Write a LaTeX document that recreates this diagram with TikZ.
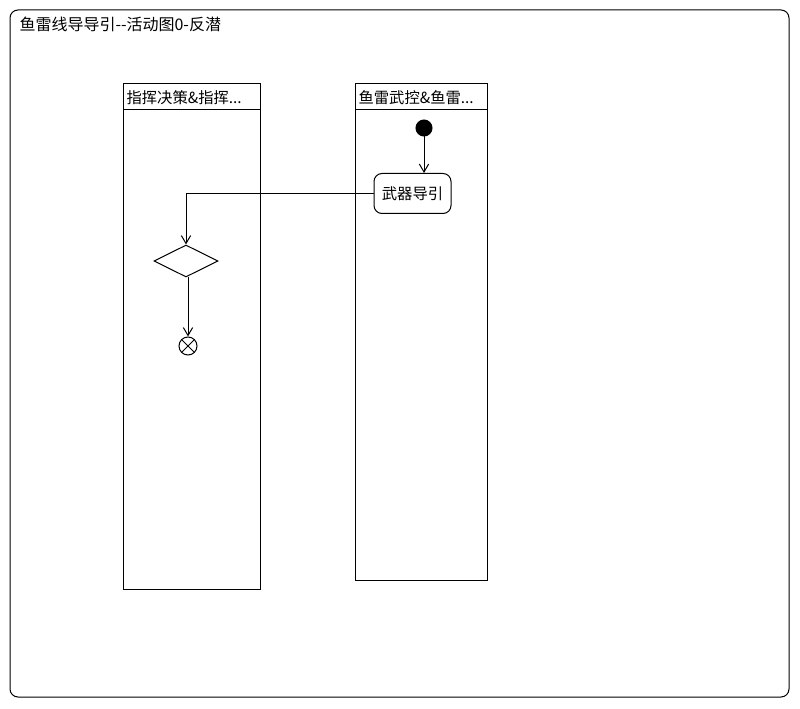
\documentclass[tikz,border=0pt]{standalone}
\usepackage{fontspec}
\setmainfont{Noto Sans CJK SC}
\usetikzlibrary{arrows.meta,shapes.geometric}
\begin{document}
\begin{tikzpicture}[x=0.75pt,y=-0.75pt,
  line width=0.75pt,
  every node/.style={font=\fontsize{11.5}{13}\selectfont},
  lane/.style={draw,line width=0.75pt},
  flow/.style={draw,-{Straight Barb[length=6pt,width=7pt]}},
  action/.style={draw,rounded corners=6pt,minimum width=77*0.75pt,minimum height=40*0.75pt,inner sep=0pt},
  decision/.style={draw,diamond,minimum width=64*0.75pt,minimum height=32*0.75pt,inner sep=0pt,aspect=2},
  initnode/.style={circle,fill=black,draw,minimum size=16*0.75pt,inner sep=0pt},
  finalnode/.style={circle,draw,minimum size=18*0.75pt,inner sep=0pt}
]
\useasboundingbox (0,0) rectangle (800,709);
% outer frame
\draw[rounded corners=6pt] (10,10) rectangle (789,697);
\node[anchor=base west,inner sep=0pt,font=\fontsize{12}{14}\selectfont] (title) at (19,31) {鱼雷线导导引{-}{-}活动图0{-}反潜};
% lanes
\draw[lane] (123,84) rectangle (260,589);
\draw[lane] (123,110) -- (260,110);
\node[anchor=west,inner sep=0pt] (h1) at (126,98) {指挥决策\&指挥...};
\draw[lane] (355,84) rectangle (487,580);
\draw[lane] (355,110) -- (487,110);
\node[anchor=west,inner sep=0pt] (h2) at (358,98) {鱼雷武控\&鱼雷...};
% nodes
\node[initnode] (start) at (424,128) {};
\node[action] (act) at (412.5,193.5) {武器导引};
\node[decision] (dec) at (186,261) {};
\node[finalnode] (fin) at (188,346) {};
\draw (fin.north west) -- (fin.south east);
\draw (fin.north east) -- (fin.south west);
% connectors
\draw[flow] (start) -- (start |- act.north);
\draw[flow] (act.west) -| (dec.north);
\draw[flow] (fin |- dec.south) -- (fin.north);
\end{tikzpicture}
\end{document}
